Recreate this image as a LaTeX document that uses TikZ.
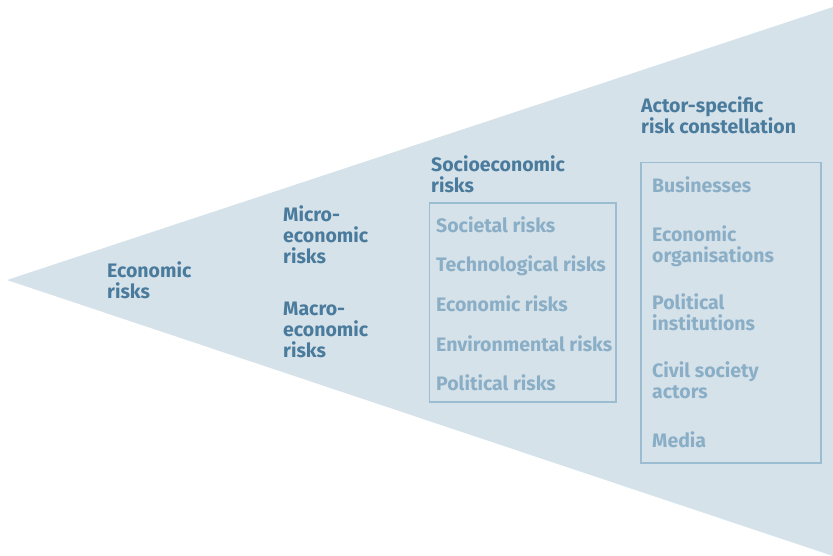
\documentclass[tikz,border=0pt]{standalone}
\usepackage{fontspec}
\setmainfont{Fira Sans}
\definecolor{wedgefill}{HTML}{D6E2EA}
\definecolor{headcol}{HTML}{4A7B9C}
\definecolor{itemcol}{HTML}{8AAEC6}
\definecolor{boxcol}{HTML}{9BBCD1}
\tikzset{
  head/.style={font=\bfseries\fontsize{19.5}{21}\selectfont, text=headcol,
    anchor=base west, inner sep=0pt, align=left},
  item/.style={head, text=itemcol},
  listbox/.style={draw=boxcol, line width=1.6pt}
}

\begin{document}
\begin{tikzpicture}[x=1pt, y=-1pt]
    \useasboundingbox (0,0) rectangle (833,555);

    % wedge
    \fill[wedgefill] (7,280) -- (833,7) -- (833,556) -- cycle;

    % headings (placed at the baseline of their last line)
    \node[head] (econ) at (107,298) {Economic\\risks};
    \node[head] (micro) at (283,263) {Micro-\\economic\\risks};
    \node[head] (macro) at (283,357) {Macro-\\economic\\risks};
    \node[head] (socio) at (431,192) {Socioeconomic\\risks};
    \node[head] (actor) at (641,133) {Actor-specific\\risk constellation};

    % socioeconomic risks
    \foreach \txt [count=\i from 0] in {Societal risks, Technological risks, Economic risks, Environmental risks, Political risks}
    {
        \node[item] (risk\i) at (436, {232+39.7*\i}) {\txt};
    }
    \draw[listbox] (429.5,203) rectangle (616,402);

    % actors
    \node[item] (business) at (652,192) {Businesses};
    \node[item] (orgs) at (652,262) {Economic\\organisations};
    \node[item] (polit) at (652,330) {Political\\institutions};
    \node[item] (civil) at (652,398) {Civil society\\actors};
    \node[item] (media) at (652,447) {Media};
    \draw[listbox] (641,162.5) rectangle (821,463);

\end{tikzpicture}
\end{document}
